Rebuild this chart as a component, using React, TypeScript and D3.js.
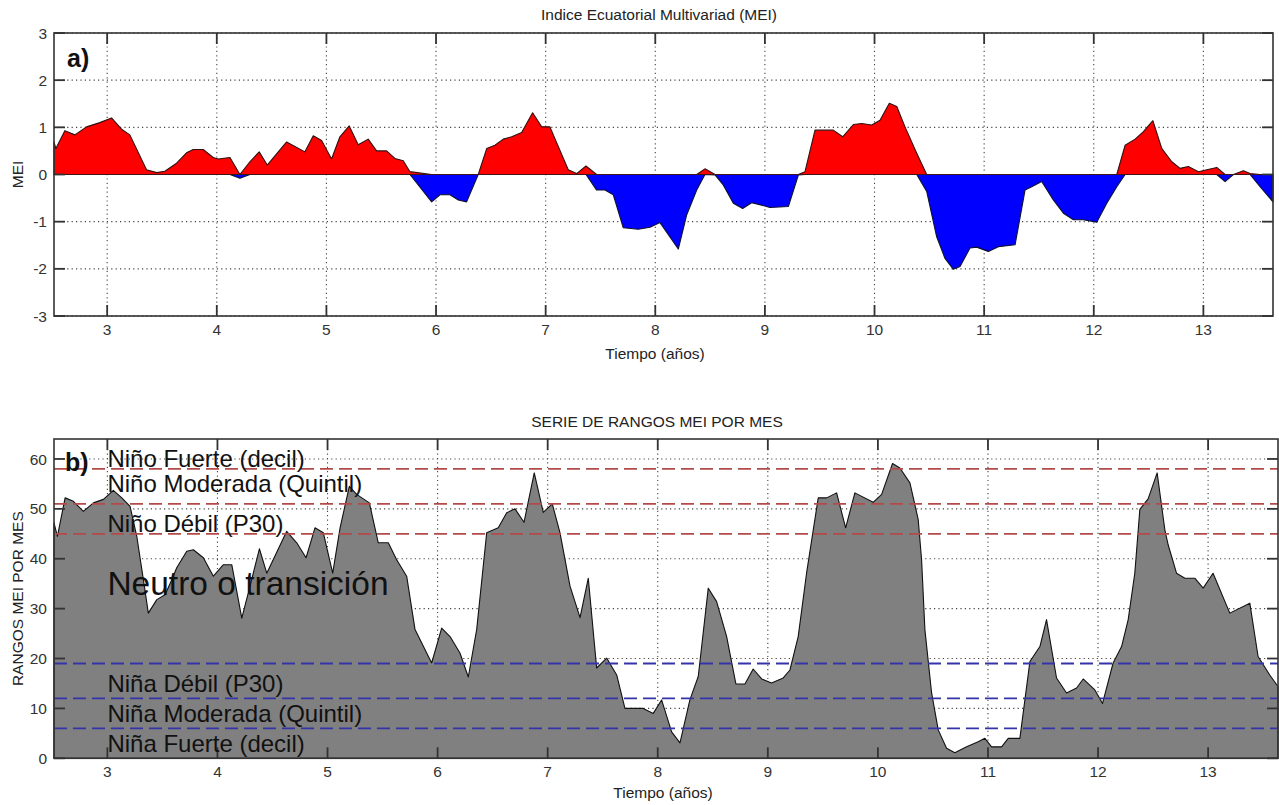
import React from 'react';
import * as d3 from 'd3';

// ---------- DATA ----------
const meiTime = [2.515, 2.532, 2.614, 2.705, 2.812, 2.933, 3.04, 3.131, 3.207, 3.359, 3.451, 3.526, 3.633, 3.724, 3.785, 3.876, 3.967, 4.013, 4.12, 4.211, 4.302, 4.387, 4.46, 4.637, 4.804, 4.88, 4.956, 5.047, 5.123, 5.208, 5.29, 5.381, 5.458, 5.549, 5.625, 5.701, 5.762, 5.96, 6.036, 6.127, 6.203, 6.279, 6.385, 6.462, 6.537, 6.613, 6.69, 6.781, 6.881, 6.964, 7.039, 7.206, 7.283, 7.368, 7.465, 7.541, 7.617, 7.708, 7.845, 7.952, 8.043, 8.21, 8.286, 8.378, 8.453, 8.545, 8.62, 8.712, 8.797, 8.879, 8.971, 9.046, 9.214, 9.305, 9.366, 9.457, 9.624, 9.71, 9.807, 9.883, 9.975, 10.05, 10.135, 10.203, 10.278, 10.385, 10.476, 10.567, 10.643, 10.719, 10.78, 10.871, 10.932, 11.038, 11.13, 11.282, 11.373, 11.434, 11.525, 11.631, 11.723, 11.814, 11.905, 12.027, 12.119, 12.21, 12.286, 12.377, 12.453, 12.539, 12.621, 12.712, 12.788, 12.863, 12.955, 13.032, 13.122, 13.198, 13.274, 13.365, 13.426, 13.517, 13.635];
const meiValue = [0.69, 0.55, 0.93, 0.84, 1.01, 1.1, 1.2, 0.96, 0.84, 0.1, 0.04, 0.07, 0.24, 0.46, 0.53, 0.53, 0.36, 0.33, 0.36, -0.08, 0.27, 0.48, 0.2, 0.69, 0.48, 0.82, 0.72, 0.33, 0.8, 1.03, 0.63, 0.75, 0.5, 0.5, 0.34, 0.29, 0.06, -0.58, -0.43, -0.43, -0.54, -0.58, 0.0, 0.55, 0.62, 0.75, 0.8, 0.89, 1.31, 1.01, 1.01, 0.1, 0.02, 0.18, -0.33, -0.33, -0.43, -1.13, -1.16, -1.12, -1.02, -1.58, -0.86, -0.33, 0.12, -0.01, -0.22, -0.61, -0.72, -0.6, -0.65, -0.7, -0.68, -0.01, 0.06, 0.94, 0.94, 0.8, 1.06, 1.08, 1.05, 1.15, 1.51, 1.44, 1.01, 0.45, -0.36, -1.32, -1.78, -2.01, -1.95, -1.56, -1.54, -1.63, -1.53, -1.49, -0.33, -0.26, -0.15, -0.54, -0.82, -0.96, -0.96, -1.01, -0.61, -0.26, 0.62, 0.75, 0.91, 1.14, 0.55, 0.27, 0.13, 0.17, 0.06, 0.1, 0.15, -0.15, 0.0, 0.08, 0.02, -0.26, -0.58];

const rankTime = [2.515, 2.546, 2.616, 2.691, 2.782, 2.873, 2.964, 3.054, 3.131, 3.206, 3.267, 3.327, 3.372, 3.449, 3.524, 3.585, 3.63, 3.721, 3.781, 3.872, 3.963, 4.054, 4.13, 4.221, 4.296, 4.381, 4.448, 4.629, 4.72, 4.805, 4.886, 4.962, 5.047, 5.114, 5.198, 5.265, 5.38, 5.461, 5.552, 5.628, 5.719, 5.795, 5.946, 6.037, 6.113, 6.203, 6.279, 6.355, 6.446, 6.551, 6.628, 6.703, 6.785, 6.878, 6.96, 7.042, 7.112, 7.203, 7.294, 7.369, 7.445, 7.536, 7.627, 7.702, 7.868, 7.959, 8.035, 8.126, 8.202, 8.292, 8.368, 8.459, 8.535, 8.626, 8.71, 8.792, 8.867, 8.944, 9.034, 9.14, 9.201, 9.276, 9.352, 9.458, 9.534, 9.625, 9.707, 9.791, 9.957, 10.034, 10.133, 10.2, 10.291, 10.366, 10.397, 10.427, 10.488, 10.548, 10.624, 10.699, 10.806, 10.911, 10.972, 11.033, 11.124, 11.184, 11.29, 11.381, 11.472, 11.532, 11.623, 11.714, 11.805, 11.865, 11.971, 12.041, 12.137, 12.214, 12.274, 12.334, 12.38, 12.455, 12.537, 12.607, 12.637, 12.713, 12.789, 12.879, 12.955, 13.045, 13.197, 13.379, 13.454, 13.56, 13.635];
const rankValue = [47.2, 44.5, 52.2, 51.5, 49.5, 51.2, 51.9, 53.7, 52.2, 50.5, 44.5, 35.8, 29.1, 31.8, 32.8, 35.8, 38.2, 41.5, 41.8, 40.2, 36.5, 38.8, 38.8, 28.1, 34.5, 42.0, 37.1, 45.5, 43.2, 40.2, 46.2, 45.2, 37.1, 46.2, 54.5, 52.9, 51.2, 43.2, 43.2, 39.8, 36.5, 25.8, 19.1, 26.1, 24.4, 21.1, 16.3, 25.8, 45.2, 46.2, 49.2, 50.0, 47.3, 57.2, 49.3, 51.0, 45.2, 34.5, 28.2, 36.1, 18.1, 20.1, 16.7, 10.0, 10.0, 9.0, 11.7, 5.3, 3.1, 11.7, 16.4, 34.1, 31.4, 24.4, 14.9, 14.9, 17.9, 15.9, 15.1, 16.1, 17.7, 24.4, 37.1, 52.2, 52.2, 53.2, 46.2, 53.2, 51.3, 52.9, 59.1, 58.2, 55.2, 47.9, 39.8, 25.8, 13.1, 5.7, 2.0, 1.1, 2.3, 3.3, 4.0, 2.3, 2.3, 4.0, 4.0, 19.4, 22.4, 27.8, 16.1, 13.1, 14.1, 15.9, 13.7, 11.0, 19.1, 22.4, 27.8, 37.1, 49.9, 52.0, 57.2, 45.8, 42.8, 37.1, 36.1, 36.1, 34.1, 37.1, 29.1, 31.1, 20.4, 16.7, 14.4];

const yearTicks = [3, 4, 5, 6, 7, 8, 9, 10, 11, 12, 13];
const meiTicks = [-3, -2, -1, 0, 1, 2, 3];
const rankTicks = [0, 10, 20, 30, 40, 50, 60];
const ninoThresholds = [58, 51, 45];
const ninaThresholds = [19, 12, 6];
const bandLabels = ['Niño Fuerte (decil)', 'Niño Moderada (Quintil)', 'Niño Débil (P30)', 'Neutro o transición', 'Niña Débil (P30)', 'Niña Moderada (Quintil)', 'Niña Fuerte (decil)'];
const bandLabelLevel = [60, 55, 47, 35, 15, 9, 3];
const bandLabelBig = [false, false, false, true, false, false, false];

const FONT = '"Liberation Sans", Arial, Helvetica, sans-serif';
const TICK_LEN = 11;

type Pt = { t: number; v: number };

function Frame({ x, y, xTicks, yTicks, label }: any) {
  const [x0, x1] = x.range();
  const [y0, y1] = y.range(); // y0 bottom, y1 top
  return (
    <g>
      {/* ticks inside on all four sides */}
      {xTicks.map((t: number) => (
        <g key={'xt' + t}>
          <line x1={x(t)} x2={x(t)} y1={y0} y2={y0 - TICK_LEN} stroke="#333" strokeWidth={1.8} />
          <line x1={x(t)} x2={x(t)} y1={y1} y2={y1 + TICK_LEN} stroke="#333" strokeWidth={1.8} />
          <text x={x(t)} y={y0 + 19} textAnchor="middle" fontFamily={FONT} fontSize={15.5} fill="#333">{t}</text>
        </g>
      ))}
      {yTicks.map((v: number) => (
        <g key={'yt' + v}>
          <line x1={x0} x2={x0 + TICK_LEN} y1={y(v)} y2={y(v)} stroke="#333" strokeWidth={1.8} />
          <line x1={x1} x2={x1 - TICK_LEN} y1={y(v)} y2={y(v)} stroke="#333" strokeWidth={1.8} />
          <text x={x0 - 7} y={y(v)} dy="0.36em" textAnchor="end" fontFamily={FONT} fontSize={15.5} fill="#333">{v}</text>
        </g>
      ))}
      <rect x={x0} y={y1} width={x1 - x0} height={y0 - y1} fill="none" stroke="#333" strokeWidth={1.6} />
    </g>
  );
}

function Grid({ x, y, xTicks, yTicks }: any) {
  const [x0, x1] = x.range();
  const [y0, y1] = y.range();
  return (
    <g stroke="#444" strokeWidth={1.1} strokeDasharray="1.2,3.2">
      {xTicks.map((t: number) => <line key={'gx' + t} x1={x(t)} x2={x(t)} y1={y0} y2={y1} />)}
      {yTicks.map((v: number) => <line key={'gy' + v} x1={x0} x2={x1} y1={y(v)} y2={y(v)} />)}
    </g>
  );
}

export default function App() {
  const domain: [number, number] = [2.515, 13.635];
  const xA = d3.scaleLinear().domain(domain).range([54, 1273]);
  const yA = d3.scaleLinear().domain([-3, 3]).range([316, 33]);
  const xB = d3.scaleLinear().domain(domain).range([54, 1278]);
  const yB = d3.scaleLinear().domain([0, 64]).range([758.3, 439]);

  const mei: Pt[] = meiTime.map((t, i) => ({ t, v: meiValue[i] }));
  const rank: Pt[] = rankTime.map((t, i) => ({ t, v: rankValue[i] }));

  const posArea = d3.area<Pt>().x(d => xA(d.t)).y0(yA(0)).y1(d => yA(Math.max(d.v, 0)));
  const negArea = d3.area<Pt>().x(d => xA(d.t)).y0(yA(0)).y1(d => yA(Math.min(d.v, 0)));
  const rankArea = d3.area<Pt>().x(d => xB(d.t)).y0(yB(0)).y1(d => yB(d.v));

  return (
    <svg width={1279} height={805} style={{ position: 'absolute', left: 0, top: 0, background: '#fff' }}>
      <rect x={0} y={0} width={1279} height={805} fill="#fff" />

      {/* ---------- Panel a ---------- */}
      <Grid x={xA} y={yA} xTicks={yearTicks} yTicks={meiTicks} />
      <path d={negArea(mei) || ''} fill="#0000ff" stroke="#101030" strokeWidth={1.1} strokeLinejoin="round" />
      <path d={posArea(mei) || ''} fill="#ff0000" stroke="#301010" strokeWidth={1.1} strokeLinejoin="round" />
      <line x1={xA(domain[0])} x2={xA(domain[1])} y1={yA(0)} y2={yA(0)} stroke="#401515" strokeWidth={1.2} />
      <Frame x={xA} y={yA} xTicks={yearTicks} yTicks={meiTicks} />
      <text x={xA.range()[0] + 13} y={67} fontFamily={FONT} fontSize={25} fontWeight="bold" fill="#111">a)</text>
      <text x={659} y={20} textAnchor="middle" fontFamily={FONT} fontSize={15.5} fill="#222">Indice Ecuatorial Multivariad (MEI)</text>
      <text x={655} y={359} textAnchor="middle" fontFamily={FONT} fontSize={15.5} fill="#222">Tiempo (años)</text>
      <text transform={`translate(23,${(yA.range()[0] + yA.range()[1]) / 2}) rotate(-90)`} textAnchor="middle" fontFamily={FONT} fontSize={15.5} fill="#222">MEI</text>

      {/* ---------- Panel b ---------- */}
      <Grid x={xB} y={yB} xTicks={yearTicks} yTicks={rankTicks} />
      <path d={rankArea(rank) || ''} fill="#808080" stroke="#111" strokeWidth={1.1} strokeLinejoin="round" />
      {ninoThresholds.map(v => (
        <line key={'n' + v} x1={xB(domain[0])} x2={xB(domain[1])} y1={yB(v)} y2={yB(v)} stroke="#b24a4a" strokeWidth={1.8} strokeDasharray="13,6" />
      ))}
      {ninaThresholds.map(v => (
        <line key={'a' + v} x1={xB(domain[0])} x2={xB(domain[1])} y1={yB(v)} y2={yB(v)} stroke="#3434a8" strokeWidth={1.8} strokeDasharray="13,6" />
      ))}
      <Frame x={xB} y={yB} xTicks={yearTicks} yTicks={rankTicks} />
      {bandLabels.map((s, i) => (
        <text key={s} x={xB(3)} y={yB(bandLabelLevel[i])} dy="0.35em" fontFamily={FONT} fontSize={bandLabelBig[i] ? 33.5 : 24} fill="#111">{s}</text>
      ))}
      <text x={xB.range()[0] + 11} y={471} fontFamily={FONT} fontSize={25} fontWeight="bold" fill="#111">b)</text>
      <text x={657} y={427} textAnchor="middle" fontFamily={FONT} fontSize={15.5} fill="#222">SERIE DE RANGOS MEI POR MES</text>
      <text x={663} y={798} textAnchor="middle" fontFamily={FONT} fontSize={15.5} fill="#222">Tiempo (años)</text>
      <text transform={`translate(23,${(yB.range()[0] + yB.range()[1]) / 2}) rotate(-90)`} textAnchor="middle" fontFamily={FONT} fontSize={15.5} fill="#222">RANGOS MEI POR MES</text>
    </svg>
  );
}
